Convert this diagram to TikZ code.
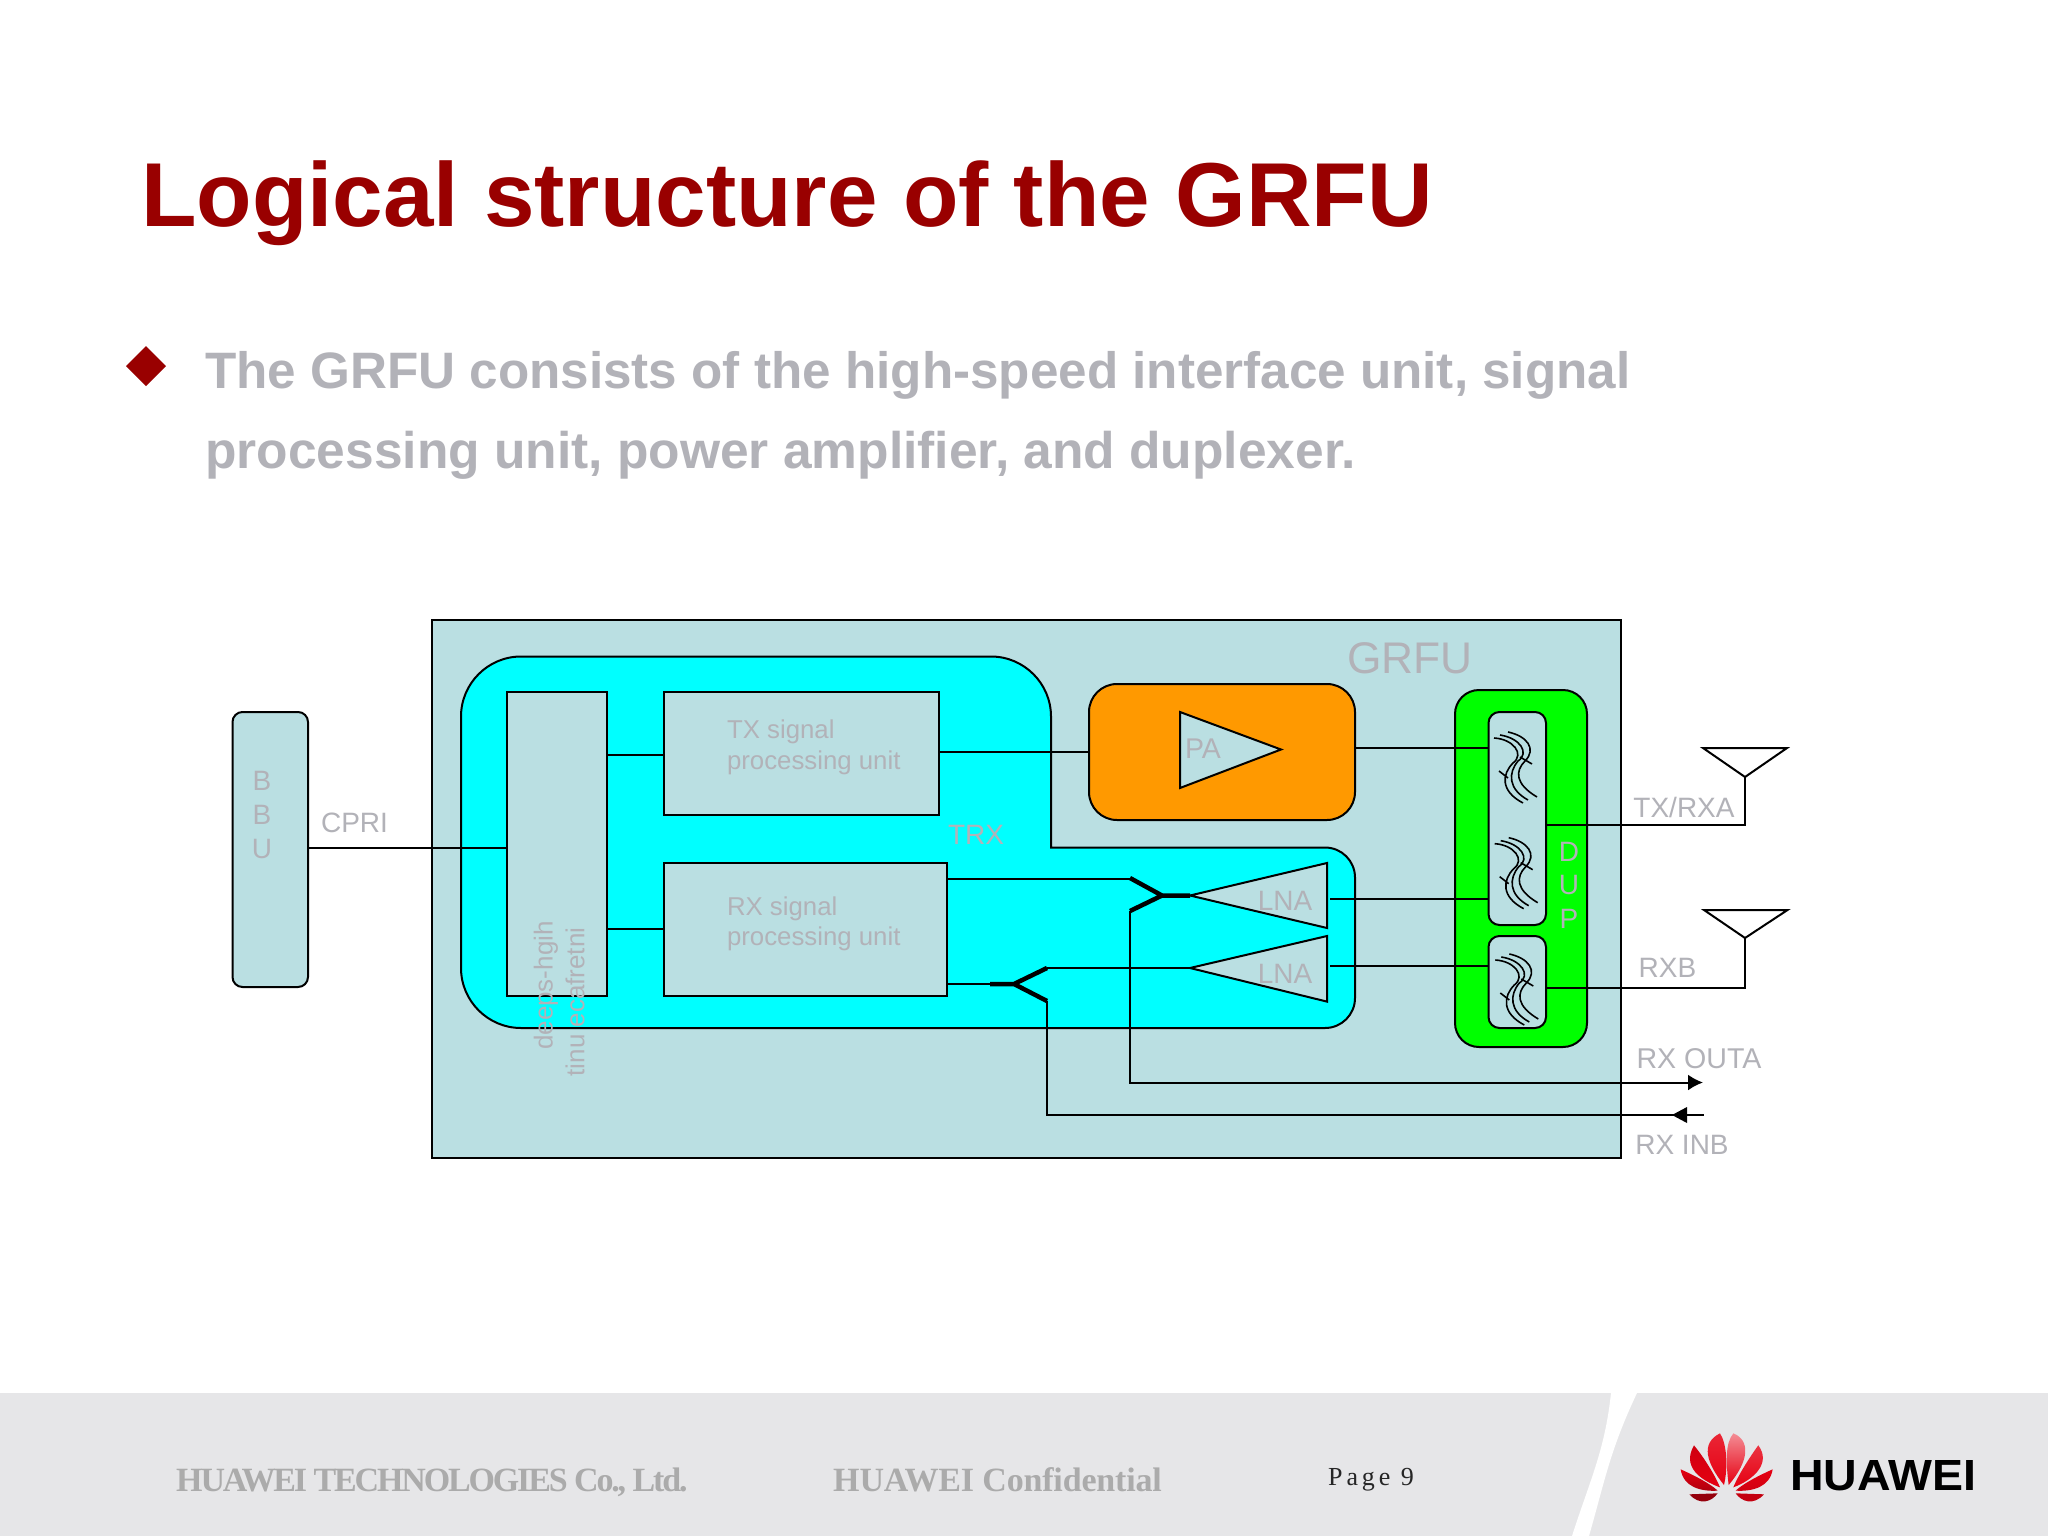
\documentclass[tikz,border=0pt]{standalone}
\usepackage{fontspec}
\usepackage{graphicx}
\setmainfont{Liberation Sans}
\newfontfamily\footf[LetterSpace=-6.3]{Liberation Serif}
\newfontfamily\footg[LetterSpace=-0.5]{Liberation Serif}
\newfontfamily\pagef[LetterSpace=15]{Liberation Serif}
\usetikzlibrary{arrows.meta}
\definecolor{grfufill}{HTML}{BADFE2}
\definecolor{txtgray}{HTML}{B2B2B8}
\definecolor{titlered}{HTML}{990000}
\definecolor{bandgray}{HTML}{E6E6E8}
\definecolor{hwred}{HTML}{E60012}
\definecolor{trxcyan}{HTML}{00FFFF}
\definecolor{paorange}{HTML}{FF9900}
\definecolor{dupgreen}{HTML}{00FF00}
\newcommand{\fs}[1]{\fontsize{#1}{#1}\selectfont}
\tikzset{
  x=1pt,y=-1pt,
  blockbox/.style={draw=black,line width=2pt,fill=grfufill,inner sep=0pt,outer sep=0pt},
  roundbox/.style={blockbox,rounded corners=#1},
  wire/.style={draw=black,line width=2pt},
  thickwire/.style={draw=black,line width=4.5pt},
  lbl/.style={text=txtgray,inner sep=0pt,outer sep=0pt,font=\fs{28}},
  lblsm/.style={lbl,font=\fs{25.8},align=left,anchor=west},
  filterglyph/.pic={
    \draw[black,line width=1.6pt] (14,0) .. controls (33,4) and (43,17) .. (31,29) .. controls (21,39) and (21,52) .. (43,65);
    \draw[black,line width=1.6pt] (6,3) .. controls (26,6) and (36,21) .. (24,29) .. controls (14,41) and (14,57) .. (34,68);
    \draw[black,line width=1.6pt] (0,6) .. controls (19,7) and (31,22) .. (19,31) .. controls (8,42) and (6,59) .. (29,71);
    \draw[black,line width=1.6pt] (26,25) -- (38,32) (5,39) -- (14,46);
  }
}
\begin{document}
\begin{tikzpicture}
\useasboundingbox (0,0) rectangle (2048,1536);
\fill[white] (0,0) rectangle (2048,1536);
% footer band
\fill[bandgray] (0,1393) rectangle (2048,1536);
\fill[white] (1611,1393) .. controls (1605,1450) and (1590,1480) .. (1572,1536) -- (1589,1536) .. controls (1605,1480) and (1610,1450) .. (1637,1393) -- cycle;
% title
\node[anchor=base west,inner sep=0pt,text=titlered,font=\fs{90.8}\bfseries] (title) at (141,226) {Logical structure of the GRFU};
\fill[titlered] (146,346) -- (166,366) -- (146,386) -- (126,366) -- cycle;
\node[anchor=base west,inner sep=0pt,text=txtgray,font=\fs{51.2}\bfseries] (body1) at (205,388.5) {The GRFU consists of the high-speed interface unit, signal};
\node[anchor=base west,inner sep=0pt,text=txtgray,font=\fs{51.5}\bfseries] (body2) at (205,468.5) {processing unit, power amplifier, and duplexer.};
% boxes
\node[blockbox,minimum width=1189pt,minimum height=538pt] (grfu) at (1026.5,889) {};
\draw[line width=2pt,fill=trxcyan]
  (521,656.5) -- (991,656.5) .. controls (1024,656.5) and (1051,683.5) .. (1051,716.5)
  -- (1051,847.5) -- (1325,847.5) .. controls (1341.6,847.5) and (1355,860.9) .. (1355,877.5)
  -- (1355,998) .. controls (1355,1014.6) and (1341.6,1028) .. (1325,1028)
  -- (521,1028) .. controls (488,1028) and (461,1001) .. (461,968)
  -- (461,716.5) .. controls (461,683.5) and (488,656.5) .. (521,656.5) -- cycle;
\node[blockbox,minimum width=100pt,minimum height=304pt] (block) at (557,844) {};
\node[blockbox,minimum width=275pt,minimum height=123pt] (tx) at (801.5,753.5) {};
\node[blockbox,minimum width=283pt,minimum height=133.5pt] (rx) at (805.5,929.25) {};
\node[roundbox=28pt,fill=paorange,minimum width=266pt,minimum height=136pt] (pa) at (1222,752) {};
\node[roundbox=24pt,fill=dupgreen,minimum width=132pt,minimum height=357pt] (dup) at (1521,868.5) {};
\node[roundbox=11pt,minimum width=57.5pt,minimum height=213pt] (fa) at (1517.25,818.5) {};
\node[roundbox=11pt,minimum width=57.5pt,minimum height=92pt] (fb) at (1517.25,982) {};
\node[roundbox=10pt,minimum width=75.5pt,minimum height=275pt] (bbu) at (270.25,849.5) {};
% filter glyphs
\pic at (1494,732) {filterglyph};
\pic at (1494.7,837.7) {filterglyph};
\pic at (1495.3,954) {filterglyph};
% triangles
\coordinate (patl) at (1180,712); \coordinate (pabl) at (1180,788); \coordinate (patip) at (1281,749.5);
\draw[line width=2pt,fill=grfufill] (patl) -- (patip) -- (pabl) -- cycle;
\coordinate (la) at (1190,895.5); \coordinate (lb) at (1190,968);
\draw[line width=2pt,fill=grfufill] (la) -- (1327,863) -- (1327,928) -- cycle;
\draw[line width=2pt,fill=grfufill] (lb) -- (1327,936) -- (1327,1001.6) -- cycle;
% antennas
\coordinate (anta) at (1745,777); \coordinate (antb) at (1745,938);
\draw[line width=2pt] (1703,748) -- (1787,748) -- (anta) -- cycle;
\draw[line width=2pt] (1704,910) -- (1787.5,910) -- (antb) -- cycle;
% connector levels
\coordinate (ycpri) at (0,847.5);
\coordinate (ytxb) at (0,755);
\coordinate (yrxb) at (0,928.5);
\coordinate (ytxpa) at (0,752.4);
\coordinate (ypad) at (0,748);
\coordinate (ylnaa) at (0,899);
\coordinate (ylnab) at (0,966);
\coordinate (ydupa) at (0,825);
\coordinate (ydupb) at (0,988);
\coordinate (lnaax) at (1330,0);
\draw[wire] (bbu.east |- ycpri) -- (block.west |- ycpri);
\draw[wire] (block.east |- ytxb) -- (tx.west |- ytxb);
\draw[wire] (block.east |- yrxb) -- (rx.west |- yrxb);
\draw[wire] (tx.east |- ytxpa) -- (pa.west |- ytxpa);
\draw[wire] (pa.east |- ypad) -- (fa.west |- ypad);
\draw[wire] (lnaax |- ylnaa) -- (fa.west |- ylnaa);
\draw[wire] (lnaax |- ylnab) -- (fb.west |- ylnab);
\draw[wire] (fa.east |- ydupa) -| (anta);
\draw[wire] (fb.east |- ydupb) -| (antb);
% combiner A
\coordinate (ca) at (1162,895.5); \coordinate (cau) at (1130,878); \coordinate (cad) at (1130,911);
\coordinate (yca) at (0,878.5);
\draw[thickwire] (la) -- (ca) (cau) -- (ca) -- (cad);
\draw[wire] (rx.east |- yca) -- (cau |- yca) -- (cau);
\coordinate (outa) at (1703,1082.5);
\draw[wire,-{Latex[length=15pt,width=16pt]}] (cad) |- (outa);
% combiner B
\coordinate (cbs) at (990,984); \coordinate (cb) at (1014,984); \coordinate (cbu) at (1047,968); \coordinate (cbd) at (1047,1001);
\draw[wire] (rx.east |- cbs) -- (cbs);
\draw[thickwire] (cbs) -- (cb) (cbu) -- (cb) -- (cbd);
\draw[wire] (cbu) -- (lb);
\coordinate (inb) at (1704,1115);
\draw[wire] (cbd) |- (inb);
\fill[black] (1672,1115) -- (1687,1107) -- (1687,1123) -- cycle;
% labels
\node[lbl,font=\fs{44.3}] (lgrfu) at (1410,658) {GRFU};
\node[lbl] (ltrx) at (976,835) {TRX};
\node[lblsm] (ltx) at (727,731.5) {TX signal};
\node[lblsm] (ltxb) at (727,762.5) {processing unit};
\node[lblsm] (lrx) at (727,908.5) {RX signal};
\node[lblsm] (lrxb) at (727,938.5) {processing unit};
\node[lbl,font=\fs{28.5}] (lpa) at (1203,748.5) {PA};
\node[lbl] (lna1) at (1285,900.5) {LNA};
\node[lbl] (lna2) at (1285,974) {LNA};
\node[lbl] (dd) at (1569,851.5) {D};
\node[lbl] (du) at (1569,884.5) {U};
\node[lbl] (dp) at (1569,918.5) {P};
\node[lbl] (b1) at (262,781) {B};
\node[lbl] (b2) at (262,815) {B};
\node[lbl] (b3) at (262,849) {U};
\node[lbl] (lcpri) at (354.5,823) {CPRI};
\node[lbl] (ltxrx) at (1684,807.5) {TX/RXA};
\node[lbl] (lrxb2) at (1667.5,968) {RXB};
\node[lbl,font=\fs{28.6}] (loa) at (1699,1058.5) {RX OUTA};
\node[lbl] (lib) at (1682,1144.5) {RX INB};
\node[lbl,font=\fs{26},rotate=90] (h1) at (546,985.5) {deeps-hgih};
\node[lbl,font=\fs{26},rotate=90] (h2) at (575,1002) {tinu ecafretni};
% footer text
\node[anchor=base west,inner sep=0pt,text=black!33,font=\fs{34}\footf\bfseries] (foot1) at (176,1491) {HUAWEI TECHNOLOGIES Co., Ltd.};
\node[anchor=base west,inner sep=0pt,text=black!33,font=\fs{34}\footg\bfseries] (foot2) at (833,1491) {HUAWEI Confidential};
\node[anchor=base west,inner sep=0pt,text=black!85,font=\fs{26}\pagef] (page) at (1328,1485) {Page 9};
% logo
\begin{scope}[shift={(1540,1380)},scale=0.3333]
\shade[top color=hwred!85!white,bottom color=hwred] (552,315) .. controls (500,250) and (480,190) .. (540,160) .. controls (560,190) and (565,260) .. (552,315) -- cycle;
\shade[top color=hwred!45!white,bottom color=hwred] (566,315) .. controls (558,250) and (555,190) .. (580,160) .. controls (630,180) and (630,240) .. (566,315) -- cycle;
\shade[top color=hwred!90!black,bottom color=hwred] (540,322) .. controls (480,300) and (425,260) .. (462,196) .. controls (490,230) and (525,285) .. (540,322) -- cycle;
\shade[top color=hwred!80!white,bottom color=hwred] (580,322) .. controls (640,300) and (695,250) .. (655,196) .. controls (630,230) and (595,285) .. (580,322) -- cycle;
\shade[top color=hwred,bottom color=hwred!75!black] (533,332) .. controls (480,335) and (430,320) .. (422,268) .. controls (460,285) and (510,310) .. (533,332) -- cycle;
\shade[top color=hwred,bottom color=hwred!90!black] (587,332) .. controls (640,335) and (690,320) .. (698,268) .. controls (660,285) and (610,310) .. (587,332) -- cycle;
\fill[hwred!65!black] (448,343) -- (533,340) .. controls (515,365) and (480,378) .. (448,343) -- cycle;
\fill[hwred!85!black] (672,343) -- (587,340) .. controls (605,365) and (640,378) .. (672,343) -- cycle;
\end{scope}
\node[anchor=south west,inner sep=0pt,text=black] (hw) at (1790,1491) {\resizebox{186pt}{30pt}{\bfseries HUAWEI}};
\end{tikzpicture}
\end{document}
